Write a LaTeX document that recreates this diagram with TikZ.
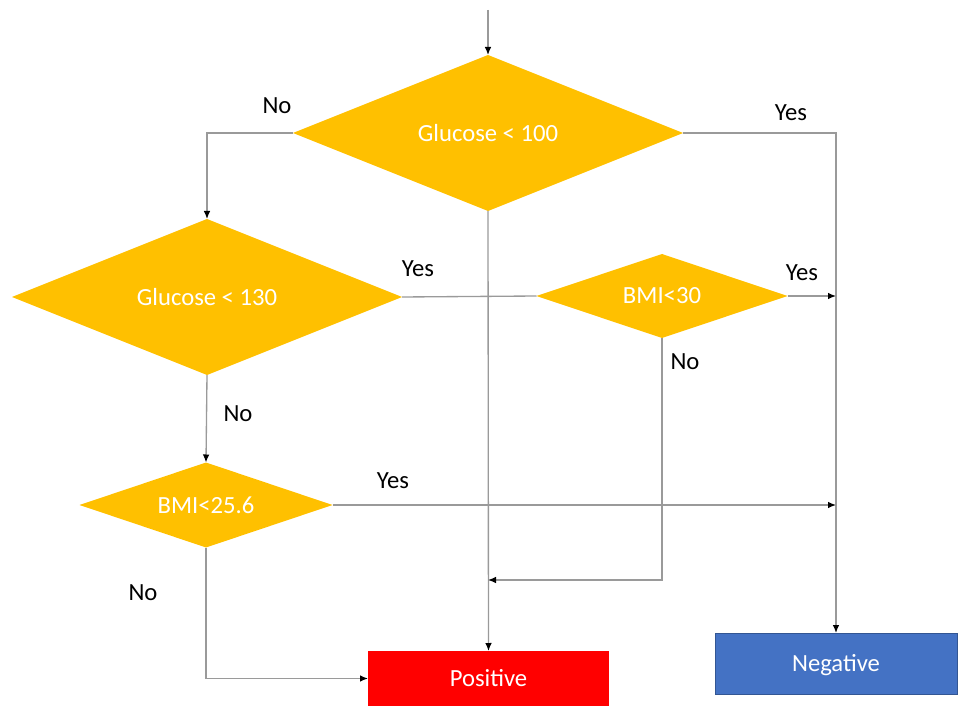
\documentclass[tikz,border=0pt]{standalone}
\usepackage{fontspec}
\setmainfont{Carlito}
\usetikzlibrary{shapes.geometric,arrows.meta}
\definecolor{decisionGold}{HTML}{FFC000}
\definecolor{posRed}{HTML}{FF0000}
\definecolor{negBlue}{HTML}{4472C4}
\definecolor{lineGray}{HTML}{9A9A9A}
\begin{document}
\begin{tikzpicture}
[x=0.75pt,y=-0.75pt,
  decisionNode/.style={shape=diamond,aspect=3,fill=decisionGold,inner sep=0pt,outer sep=0pt,text=white,font=\fontsize{18.5}{20}\selectfont},%
  resultNode/.style={shape=rectangle,inner sep=0pt,outer sep=0pt,text height=17pt,text depth=4.5pt,text=white,font=\fontsize{18.5}{20}\selectfont},%
  flowLine/.style={-,draw=lineGray,line width=1pt},%
  flowArrow/.style={flowLine,-{Latex[black,length=6pt,width=5pt]}},%
  answerText/.style={font=\fontsize{18.5}{20}\selectfont,text=black}]
\useasboundingbox (0,0) rectangle (958,706);
%% decisions
\node (glu100) at (488,133) [decisionNode,minimum width=292.5pt,minimum height=117pt] {Glucose < 100};
\node (glu130) at (207,297) [decisionNode,minimum width=292.5pt,minimum height=117pt] {Glucose < 130};
\node (bmi30) at (662,296) [decisionNode,minimum width=188.25pt,minimum height=63pt] {BMI<30};
\node (bmi256) at (206,505) [decisionNode,minimum width=189.75pt,minimum height=63.75pt] {BMI<25.6};
%% outcomes
\node (pos) at (488.5,678.5) [resultNode,fill=posRed,minimum width=180.75pt,minimum height=41.25pt] {Positive};
\node (neg) at (836,663.5) [resultNode,fill=negBlue,draw=negBlue!75!black,line width=0.5pt,minimum width=181.5pt,minimum height=45.75pt] {Negative};
%% free ends
\coordinate (entry) at (488,10);
\coordinate (join) at (488,580);
%% yes / no labels
\foreach \lblname/\lbltext/\x/\y in {n1/No/277/106, y1/Yes/791/113, y2/Yes/418/269, y3/Yes/802/273,
  n3/No/685/362, n2/No/238/414, y4/Yes/393/481, n4/No/143/593}
{
  \node (\lblname) at (\x,\y) [answerText] {\lbltext};
}
%% connectors
\draw[flowArrow] (entry) -- (glu100.north);
\draw[flowArrow] (glu100.west) -| (glu130.north);
\draw[flowArrow] (glu100.east) -| (neg.north);
\draw[flowArrow] (glu100.south) -- (pos.north);
\draw[flowLine] (glu130.east) -- (bmi30.west);
\draw[flowArrow] (bmi30.east) -- (bmi30.east -| neg.north);
\draw[flowArrow] (bmi30.south) |- (join);
\draw[flowArrow] (glu130.south) -- (bmi256.north);
\draw[flowArrow] (bmi256.east) -- (bmi256.east -| neg.north);
\draw[flowArrow] (bmi256.south) |- (pos.west);
\end{tikzpicture}
\end{document}
